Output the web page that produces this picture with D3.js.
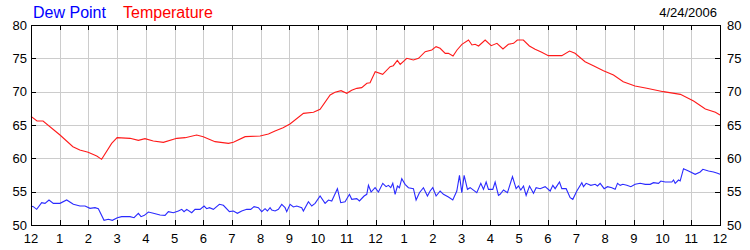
<!DOCTYPE html>
<html>
<head>
<meta charset="utf-8">
<script src="https://cdn.jsdelivr.net/npm/d3@7"></script>
<style>
  body { margin: 0; background: #fff; }
  svg text { font-family: Arial, "Liberation Sans", sans-serif; }
</style>
</head>
<body>
<div id="chart-area"></div>
<script>
// hour-of-day labels along the bottom (0..24)
const hourLabels = ["12","1","2","3","4","5","6","7","8","9","10","11","12",
                    "1","2","3","4","5","6","7","8","9","10","11","12"];
const yTicks = [50, 55, 60, 65, 70, 75, 80];
const dateLabel = "4/24/2006";

// temperature: [hour, degF]
const tempHours = [0,0.21,0.42,1.01,1.46,1.70,1.99,2.29,2.46,2.81,3.00,3.45,3.74,3.97,4.26,4.61,
  5.08,5.37,5.77,6.00,6.41,6.88,7.05,7.46,7.98,8.27,8.50,8.78,9.02,9.49,9.84,10.07,10.42,10.59,
  10.80,11.00,11.17,11.35,11.52,11.70,11.81,11.99,12.25,12.51,12.62,12.76,12.86,13.09,13.32,13.50,
  13.73,13.96,14.11,14.25,14.43,14.54,14.70,14.84,15.01,15.24,15.36,15.47,15.59,15.82,16.03,16.23,
  16.44,16.63,16.81,16.94,17.15,17.36,17.56,17.79,18.02,18.49,18.76,18.95,19.30,19.59,19.94,20.29,
  20.63,21.04,21.45,22.03,22.62,23.08,23.49,23.84,24.00];
const tempValues = [66.3,65.6,65.6,63.5,61.75,61.25,60.9,60.35,59.85,62.25,63.1,63.0,62.7,62.95,62.6,62.4,
  63.0,63.1,63.5,63.25,62.5,62.25,62.4,63.25,63.35,63.65,64.1,64.6,65.15,66.75,66.9,67.35,69.5,69.9,
  70.15,69.75,70.2,70.5,70.6,71.25,71.35,73.0,72.6,73.75,73.9,74.7,74.1,75.0,74.75,75.0,
  76.0,76.25,76.75,76.5,75.75,75.75,75.35,76.25,77.1,77.75,77.0,77.1,76.85,77.75,76.9,77.25,
  76.4,77.1,77.25,77.75,77.75,76.85,76.35,75.9,75.4,75.4,76.1,75.75,74.5,73.9,73.15,72.5,
  71.5,70.85,70.5,70.0,69.6,68.6,67.4,66.9,66.5];

// dew point
const dewHours = [0,0.081,0.198,0.372,0.488,0.627,0.778,1.010,1.243,1.475,1.707,1.882,2.056,2.230,2.346,
  2.544,2.694,2.834,3.008,3.159,3.449,3.589,3.740,3.833,3.949,4.088,4.263,4.495,4.669,4.785,4.959,
  5.133,5.250,5.331,5.424,5.598,5.714,5.889,6.028,6.121,6.214,6.353,6.562,6.701,6.911,7.050,7.189,
  7.340,7.515,7.654,7.770,7.921,8.037,8.153,8.235,8.328,8.386,8.502,8.618,8.734,8.850,8.908,9.024,
  9.140,9.256,9.430,9.488,9.663,9.779,9.895,10.070,10.244,10.360,10.476,10.557,10.673,10.789,10.940,
  11.092,11.173,11.347,11.440,11.603,11.696,11.754,11.847,11.986,12.102,12.253,12.369,12.451,12.532,
  12.602,12.683,12.764,12.834,12.915,13.031,13.147,13.321,13.414,13.530,13.670,13.809,13.902,13.995,
  14.111,14.251,14.367,14.541,14.692,14.832,14.925,15.006,15.087,15.203,15.296,15.528,15.668,15.761,
  15.854,15.935,16.086,16.167,16.283,16.341,16.458,16.597,16.771,16.899,16.980,17.062,17.155,17.247,
  17.364,17.503,17.596,17.735,17.909,18.084,18.177,18.258,18.409,18.490,18.641,18.781,18.873,19.013,
  19.187,19.245,19.338,19.501,19.652,19.733,19.826,19.965,20.081,20.232,20.348,20.430,20.523,20.616,
  20.755,20.894,21.045,21.220,21.394,21.568,21.684,21.858,21.940,22.091,22.323,22.381,22.439,22.555,
  22.613,22.729,22.904,23.136,23.310,23.403,23.600,23.775,23.914,24.0];
const dewValues = [52.85,52.75,52.35,53.35,53.25,53.75,53.25,53.25,53.75,53.1,52.85,52.85,52.5,52.6,52.45,
  50.7,50.85,50.7,51.1,51.25,51.25,51.1,51.75,51.25,51.45,51.95,51.75,51.5,51.45,52.0,51.85,
  52.1,52.35,52.0,52.35,51.85,52.35,52.35,52.85,52.45,52.6,52.35,53.1,52.95,52.0,52.1,51.75,
  52.1,52.35,52.35,52.75,52.6,52.0,52.45,52.1,52.6,52.25,52.1,52.35,53.1,52.6,52.0,53.1,
  52.7,52.85,52.6,52.1,53.5,52.85,53.25,54.35,53.25,53.75,53.6,54.35,55.45,53.35,53.5,
  54.6,53.85,53.95,53.6,54.35,54.6,55.95,54.95,55.6,54.95,56.25,55.75,55.95,55.6,
  56.25,54.6,55.85,55.6,56.95,56.1,55.6,55.45,53.75,54.85,55.6,54.35,55.1,55.6,
  54.35,55.1,54.6,54.2,53.75,55.1,57.45,54.85,57.45,55.35,55.6,54.85,56.25,55.35,
  56.45,55.35,55.35,56.45,54.45,54.6,55.25,54.85,57.25,55.45,55.85,55.25,55.85,54.45,
  55.85,54.75,55.6,55.45,55.75,55.1,55.95,55.45,56.45,55.45,55.45,54.1,53.85,55.1,
  56.35,55.75,56.25,55.95,56.1,55.85,56.25,55.45,55.75,55.6,55.35,56.25,55.95,56.1,
  55.95,55.75,56.1,56.25,56.1,56.1,56.35,56.25,56.6,56.45,56.45,56.75,56.25,56.75,
  56.6,58.45,58.1,57.6,57.95,58.35,58.1,57.95,57.75,57.6];

const width = 750, height = 250;
const margin = { top: 25, right: 30, bottom: 25, left: 31 };

const svg = d3.select("#chart-area").append("svg")
    .attr("width", width)
    .attr("height", height);

const x = d3.scaleLinear().domain([0, 24]).range([margin.left, width - margin.right]);
const y = d3.scaleLinear().domain([50, 80]).range([height - margin.bottom, margin.top]);

const hours = d3.range(0, 25);

// grid
svg.append("g").attr("stroke", "#cccccc").attr("shape-rendering", "crispEdges")
  .selectAll("line.v").data(hours.slice(1, 24)).join("line")
    .attr("x1", d => Math.round(x(d)) + 0.5).attr("x2", d => Math.round(x(d)) + 0.5)
    .attr("y1", y(80)).attr("y2", y(50));
svg.append("g").attr("stroke", "#cccccc").attr("shape-rendering", "crispEdges")
  .selectAll("line.h").data(yTicks.slice(1, -1)).join("line")
    .attr("x1", x(0)).attr("x2", x(24))
    .attr("y1", d => Math.round(y(d)) + 0.5).attr("y2", d => Math.round(y(d)) + 0.5);

// lines
const line = (hs, vs) => d3.line().x(i => x(hs[i])).y(i => y(vs[i]))(d3.range(hs.length));

svg.append("path").attr("d", line(dewHours, dewValues))
  .attr("fill", "none").attr("stroke", "#2a2aff").attr("stroke-width", 1.1);
svg.append("path").attr("d", line(tempHours, tempValues))
  .attr("fill", "none").attr("stroke", "#ff1a1a").attr("stroke-width", 1.1);

// frame
svg.append("rect")
  .attr("x", x(0) + 0.5).attr("y", y(80) + 0.5)
  .attr("width", x(24) - x(0)).attr("height", y(50) - y(80))
  .attr("fill", "none").attr("stroke", "black").attr("shape-rendering", "crispEdges");

// tick marks, drawn inward
const ticks = svg.append("g").attr("stroke", "black").attr("shape-rendering", "crispEdges");
ticks.selectAll("line.t").data(hours.slice(1, 24)).join("line")
  .attr("x1", d => Math.round(x(d)) + 0.5).attr("x2", d => Math.round(x(d)) + 0.5)
  .attr("y1", y(80)).attr("y2", y(80) + 5);
ticks.selectAll("line.b").data(hours.slice(1, 24)).join("line")
  .attr("x1", d => Math.round(x(d)) + 0.5).attr("x2", d => Math.round(x(d)) + 0.5)
  .attr("y1", y(50)).attr("y2", y(50) - 5);
ticks.selectAll("line.l").data(yTicks.slice(1, -1)).join("line")
  .attr("x1", x(0)).attr("x2", x(0) + 5)
  .attr("y1", d => Math.round(y(d)) + 0.5).attr("y2", d => Math.round(y(d)) + 0.5);
ticks.selectAll("line.r").data(yTicks.slice(1, -1)).join("line")
  .attr("x1", x(24)).attr("x2", x(24) - 5)
  .attr("y1", d => Math.round(y(d)) + 0.5).attr("y2", d => Math.round(y(d)) + 0.5);

// axis labels
svg.append("g").selectAll("text").data(hours).join("text")
  .attr("x", d => x(d)).attr("y", 243)
  .attr("text-anchor", "middle").attr("font-size", 13)
  .text(d => hourLabels[d]);
svg.append("g").selectAll("text").data(yTicks).join("text")
  .attr("x", 27).attr("y", d => y(d)).attr("dy", "0.35em")
  .attr("text-anchor", "end").attr("font-size", 13)
  .text(d => d);
svg.append("g").selectAll("text").data(yTicks).join("text")
  .attr("x", 727).attr("y", d => y(d)).attr("dy", "0.35em")
  .attr("font-size", 13)
  .text(d => d);

// legend and date
svg.append("text").attr("x", 33).attr("y", 18).attr("font-size", 16)
  .attr("fill", "#0000ff").text("Dew Point");
svg.append("text").attr("x", 123).attr("y", 18).attr("font-size", 16)
  .attr("fill", "#ff0000").text("Temperature");
svg.append("text").attr("x", 717).attr("y", 17).attr("font-size", 13)
  .attr("text-anchor", "end").text(dateLabel);
</script>
</body>
</html>
